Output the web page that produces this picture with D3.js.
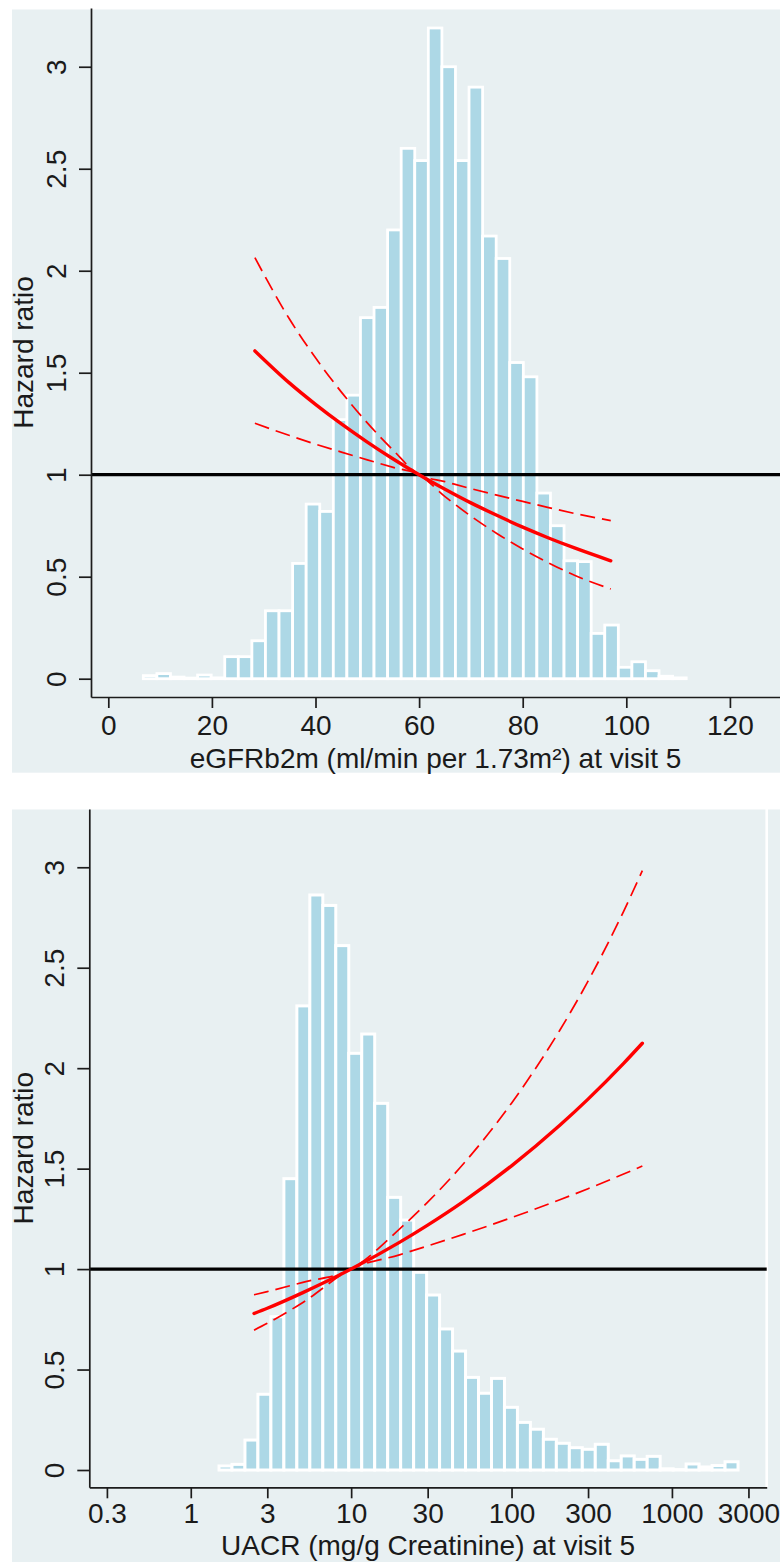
<!DOCTYPE html>
<html>
<head>
<meta charset="utf-8">
<script src="https://cdn.jsdelivr.net/npm/d3@7"></script>
<style>
body { margin: 0; background: #fff; }
svg { display: block; }
text { font-family: "Liberation Sans", Arial, sans-serif; }
</style>
</head>
<body>
<svg id="chart" width="780" height="1562"></svg>
<script>
// shared y ticks (hazard ratio)
const hrTicks = [0, 0.5, 1, 1.5, 2, 2.5, 3];

// --- panel 1: eGFRb2m ---
const egfrBinStart = 6.76;
const egfrBinWidth = 2.62;
const egfrBars = [0.015, 0.025, 0.008, 0.003, 0.018, 0.004, 0.108, 0.108, 0.186, 0.333,
                  0.333, 0.565, 0.856, 0.82, 1.27, 1.39, 1.77, 1.82, 2.20, 2.60,
                  2.54, 3.19, 3.00, 2.54, 2.90, 2.17, 2.06, 1.55, 1.48, 0.91,
                  0.75, 0.578, 0.574, 0.222, 0.263, 0.056, 0.083, 0.039, 0.012, 0.004];
const egfrX  = [28.3, 35, 40, 45, 50, 55, 60, 65, 70, 75, 80, 85, 90, 97];
const egfrHR = [1.607, 1.449, 1.345, 1.249, 1.160, 1.077, 1, 0.929, 0.862, 0.801, 0.743, 0.690, 0.641, 0.578];
const egfrHi = [2.064, 1.762, 1.573, 1.405, 1.254, 1.120, 1, 0.966, 0.932, 0.900, 0.869, 0.839, 0.810, 0.775];
const egfrLo = [1.252, 1.192, 1.150, 1.111, 1.073, 1.036, 1, 0.893, 0.797, 0.712, 0.636, 0.568, 0.507, 0.440];
const egfrTicks = [0, 20, 40, 60, 80, 100, 120];

// --- panel 2: UACR (log axis) ---
const uacrBinStart = 1.5;       // lower edge of first bin
const uacrBinLogWidth = 0.0809; // bin width in log10 units
const uacrBars = [0.02, 0.028, 0.149, 0.377, 0.763, 1.45, 2.31, 2.862, 2.81, 2.61,
                  2.074, 2.17, 1.825, 1.357, 1.244, 0.984, 0.871, 0.702, 0.592, 0.461,
                  0.382, 0.456, 0.312, 0.237, 0.203, 0.153, 0.133, 0.111, 0.103, 0.128,
                  0.046, 0.070, 0.053, 0.068, 0.006, 0.002, 0.030, 0.015, 0.022, 0.041];
const uacrX  = [2.48, 3, 5, 10, 20, 30, 50, 100, 200, 300, 500, 654];
const uacrHR = [0.779, 0.805, 0.883, 1, 1.133, 1.219, 1.336, 1.514, 1.716, 1.846, 2.024, 2.124];
const uacrHi = [0.872, 0.888, 0.934, 1, 1.199, 1.333, 1.523, 1.826, 2.189, 2.433, 2.781, 2.983];
const uacrLo = [0.696, 0.730, 0.834, 1, 1.071, 1.115, 1.173, 1.256, 1.345, 1.400, 1.473, 1.513];
const uacrTicks = [0.3, 1, 3, 10, 30, 100, 300, 1000, 3000];

const BG = '#e8f0f2';
const BAR = '#add8e6';
const svg = d3.select('#chart');

function drawPanel(p) {
    const g = svg.append('g');
    g.append('rect').attr('x', p.bg[0]).attr('y', p.bg[1])
        .attr('width', p.bg[2] - p.bg[0]).attr('height', p.bg[3] - p.bg[1])
        .attr('fill', BG);

    const x = p.x, y = p.y;

    // histogram
    g.append('g').selectAll('rect')
        .data(p.bars.map((v, i) => ({ v, x0: p.edge(i), x1: p.edge(i + 1) })))
        .join('rect')
        .attr('x', d => x(d.x0))
        .attr('width', d => x(d.x1) - x(d.x0))
        .attr('y', d => y(d.v))
        .attr('height', d => y(0) - y(d.v))
        .attr('fill', BAR)
        .attr('stroke', '#fff')
        .attr('stroke-width', p.barStroke);

    // plot region white border (right side)
    if (p.border) {
        g.append('line').attr('x1', x.range()[1]).attr('x2', x.range()[1])
            .attr('y1', y.range()[1] - 1).attr('y2', y.range()[0])
            .attr('stroke', '#fff').attr('stroke-width', 2.6);
    }

    // reference line HR = 1
    g.append('line')
        .attr('x1', x.range()[0]).attr('x2', x.range()[1])
        .attr('y1', y(1)).attr('y2', y(1))
        .attr('stroke', '#000').attr('stroke-width', 3.3);

    // fitted curve + CI
    const line = d3.line().curve(d3.curveMonotoneX);
    const pts = arr => p.cx.map((v, i) => [x(v), y(arr[i])]);
    [p.lo, p.hi].forEach(arr => {
        g.append('path').attr('d', line(pts(arr)))
            .attr('fill', 'none').attr('stroke', '#ff0000')
            .attr('stroke-width', 1.7).attr('stroke-dasharray', '15,7');
    });
    g.append('path').attr('d', line(pts(p.hr)))
        .attr('fill', 'none').attr('stroke', '#ff0000')
        .attr('stroke-width', 3.4).attr('stroke-linecap', 'round');

    // axes
    const left = x.range()[0], bottom = y.range()[0];
    const ya = g.append('g').attr('transform', `translate(${left},0)`)
        .call(d3.axisLeft(y).tickValues(hrTicks).tickSize(12).tickSizeOuter(0).tickFormat(d3.format('')));
    ya.selectAll('text')
        .attr('transform', 'rotate(-90)')
        .attr('x', 0).attr('y', -(left - p.yLabX)).attr('dy', 0)
        .attr('text-anchor', 'middle');

    const xa = g.append('g').attr('transform', `translate(0,${bottom})`)
        .call(d3.axisBottom(x).tickValues(p.xTicks).tickSize(11).tickSizeOuter(0).tickFormat(d => String(d)));
    xa.selectAll('text').attr('y', p.xLabDy).attr('dy', 0);

    [ya, xa].forEach(a => {
        a.select('.domain').attr('stroke', '#1c1c1c').attr('stroke-width', 1.7);
        a.selectAll('.tick line').attr('stroke', '#1c1c1c').attr('stroke-width', 1.7);
        a.selectAll('text').attr('font-size', 28).attr('fill', '#1a1a1a')
            .attr('font-family', '"Liberation Sans", Arial, sans-serif');
    });

    // axis titles
    const midY = (y.range()[0] + y.range()[1]) / 2;
    g.append('text')
        .attr('transform', `translate(${p.yTitleX},${midY}) rotate(-90)`)
        .attr('text-anchor', 'middle').attr('font-size', 28).attr('fill', '#1a1a1a')
        .text('Hazard ratio');
    g.append('text')
        .attr('x', (x.range()[0] + x.range()[1]) / 2).attr('y', p.xTitleY)
        .attr('text-anchor', 'middle').attr('font-size', 28).attr('fill', '#1a1a1a')
        .text(p.xTitle);
}

drawPanel({
    bg: [12, 9.5, 780, 772.7],
    x: d3.scaleLinear().domain([-3.34, 129.67]).range([91, 780]),
    y: d3.scaleLinear().domain([-0.0897, 3.288]).range([697, 8]),
    bars: egfrBars,
    edge: i => egfrBinStart + i * egfrBinWidth,
    barStroke: 2.8,
    cx: egfrX, hr: egfrHR, lo: egfrLo, hi: egfrHi,
    xTicks: egfrTicks,
    yLabX: 66, xLabDy: 38,
    yTitleX: 33, xTitleY: 768,
    xTitle: 'eGFRb2m (ml/min per 1.73m²) at visit 5',
    border: false
});

drawPanel({
    bg: [12, 809.5, 780, 1562],
    x: d3.scaleLog().domain([0.233, 3899]).range([89.3, 766.7]),
    y: d3.scaleLinear().domain([-0.0861, 3.290]).range([1487.3, 809]),
    bars: uacrBars,
    edge: i => uacrBinStart * Math.pow(10, i * uacrBinLogWidth),
    barStroke: 3,
    cx: uacrX, hr: uacrHR, lo: uacrLo, hi: uacrHi,
    xTicks: uacrTicks,
    yLabX: 64, xLabDy: 36,
    yTitleX: 33, xTitleY: 1555,
    xTitle: 'UACR (mg/g Creatinine) at visit 5',
    border: true
});
</script>
</body>
</html>
